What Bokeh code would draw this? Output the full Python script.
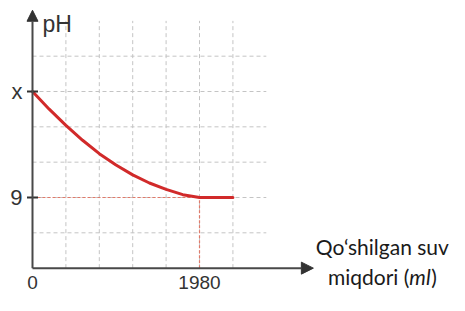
from bokeh.plotting import figure
from bokeh.models import Range1d, Arrow, NormalHead
from bokeh.core.properties import value
from bokeh.embed import file_html
from bokeh.resources import INLINE

# ---- data ----
water_ml = [0, 198, 396, 594, 792, 990, 1188, 1386, 1584, 1782, 1980, 2376]
ph = [12.0, 11.5, 11.04, 10.62, 10.24, 9.92, 9.64, 9.41, 9.23, 9.08, 9.0, 9.0]
x_ticks = [0, 1980]
x_tick_labels = ["0", "1980"]
y_ticks = [9, 12]
y_tick_labels = ["9", "x"]
x_grid = [396, 792, 1188, 1584, 1980, 2376]
y_grid = [8, 9, 10, 11, 12, 13]

# ---- extents ----
y_base = 7.0
grid_x_end = 2772
grid_y_top = 14.0
x_axis_end = 3330
y_axis_end = 14.3

p = figure(width=449, height=295,
           x_range=Range1d(-379.4, 4943.9), y_range=Range1d(6.226, 14.576),
           x_axis_type=None, y_axis_type=None,
           output_backend="svg", toolbar_location=None, min_border=0)
p.grid.visible = False
p.outline_line_color = None
p.background_fill_color = "white"
p.border_fill_color = "white"

GRID = "#c4c4c4"
# grid
p.segment(x0=x_grid, y0=[y_base] * len(x_grid), x1=x_grid, y1=[grid_y_top] * len(x_grid),
          line_color=GRID, line_width=1, line_dash="4 3")
p.segment(x0=[0] * len(y_grid), y0=y_grid, x1=[grid_x_end] * len(y_grid), y1=y_grid,
          line_color=GRID, line_width=1, line_dash="4 3")

# red dotted guides
p.segment(x0=[0, x_ticks[1]], y0=[y_ticks[0], y_base], x1=[x_ticks[1], x_ticks[1]], y1=[y_ticks[0], y_ticks[0]],
          line_color="#e07a6a", line_width=1.2, line_dash="3 2")

# curve
p.line(water_ml, ph, line_color="#d12a2a", line_width=3, line_join="round", line_cap="round")

# axes with arrows
AX = "#484848"
p.add_layout(Arrow(x_start=0, y_start=y_base, x_end=x_axis_end, y_end=y_base,
                   line_color=AX, line_width=2,
                   end=NormalHead(size=12, fill_color="#333333", line_color="#333333", line_width=1)))
p.add_layout(Arrow(x_start=0, y_start=y_base, x_end=0, y_end=y_axis_end,
                   line_color=AX, line_width=2,
                   end=NormalHead(size=11, fill_color="#333333", line_color="#333333", line_width=1)))

# y tick marks
p.scatter(x=[0] * len(y_ticks), y=y_ticks, marker="dash", size=11, line_color="#333333", line_width=2)

TXT = "#333333"
FONT = value("Liberation Sans")
p.text(x=x_ticks, y=[y_base] * len(x_ticks), text=x_tick_labels, text_align="center",
       text_baseline="middle", y_offset=14, text_font_size="19px", text_font=FONT, text_color=TXT)
p.text(x=[0] * len(y_ticks), y=y_ticks, text=y_tick_labels, text_align="right",
       text_baseline="middle", x_offset=-10, text_font_size="22px", text_font=FONT, text_color=TXT)
p.text(x=[0], y=[y_axis_end], text=["pH"], text_align="left", text_baseline="middle",
       x_offset=10, y_offset=14, text_font_size="23px", text_font=FONT, text_color=TXT)

# axis title (right)
LF = value("Lato")
p.text(x=[x_axis_end], y=[y_base], text=["Qo\u2018shilgan suv"], text_align="center",
       text_baseline="middle", x_offset=69, y_offset=-22, text_font_size="21px",
       text_font=LF, text_color="#1a1a1a")
p.text(x=[x_axis_end], y=[y_base], text=["miqdori ("], text_align="right",
       text_baseline="middle", x_offset=96, y_offset=8, text_font_size="21px",
       text_font=LF, text_color="#1a1a1a")
p.text(x=[x_axis_end], y=[y_base], text=["ml"], text_align="left",
       text_baseline="middle", x_offset=96, y_offset=8, text_font_size="21px",
       text_font=LF, text_font_style="italic", text_color="#1a1a1a")
p.text(x=[x_axis_end], y=[y_base], text=[")"], text_align="left",
       text_baseline="middle", x_offset=118, y_offset=8, text_font_size="21px",
       text_font=LF, text_color="#1a1a1a")

open("out.html", "w").write(file_html(p, INLINE))
